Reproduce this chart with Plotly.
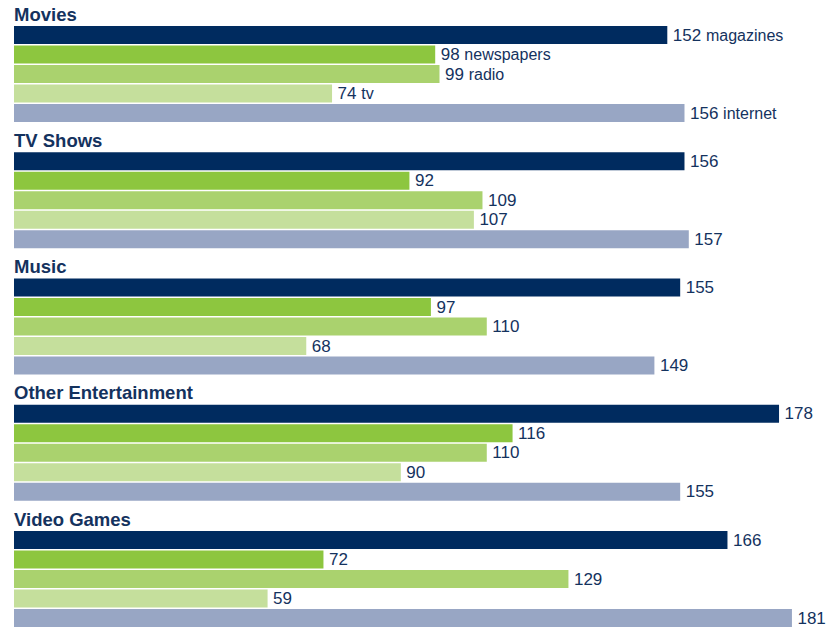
import plotly.graph_objects as go

# Media index by entertainment category
categories = ["Movies", "TV Shows", "Music", "Other Entertainment", "Video Games"]
series = ["magazines", "newspapers", "radio", "tv", "internet"]
values = {
    "magazines":  [152, 156, 155, 178, 166],
    "newspapers": [98, 92, 97, 116, 72],
    "radio":      [99, 109, 110, 110, 129],
    "tv":         [74, 107, 68, 90, 59],
    "internet":   [156, 157, 149, 155, 181],
}
colors = ["#002B5F", "#8DC63F", "#AAD26E", "#C5DF9C", "#98A6C4"]

NAVY = "#14325E"
FONT = "Liberation Sans, Arial, Helvetica, sans-serif"

W, H = 829, 628
PX_PER_UNIT = 4.298
LEFT = 14
GROUP_STEP = 126.25
BAR_STEP = 19.5
FIRST_BAR = 35
BAR_H = 18

# narrow non-breaking space to push labels a little off the bar ends
PAD = "<span style='font-size:9px'>\u00a0</span>"

fig = go.Figure()
for i, name in enumerate(series):
    ys = [FIRST_BAR + g * GROUP_STEP + i * BAR_STEP for g in range(len(categories))]
    texts = []
    for g, v in enumerate(values[name]):
        if g == 0:
            texts.append(f"{PAD}{v} <span style='font-size:16px'>{name}</span>")
        else:
            texts.append(f"{PAD}{v}")
    fig.add_trace(go.Bar(
        x=values[name], y=ys, orientation="h", width=BAR_H,
        marker=dict(color=colors[i], line=dict(width=0)),
        text=texts, textposition="outside", cliponaxis=False,
        constraintext="none",
        textfont=dict(family=FONT, size=17, color=NAVY),
        name=name, hoverinfo="skip",
    ))

for g, cat in enumerate(categories):
    fig.add_annotation(
        x=0, y=14 + g * GROUP_STEP, xref="x", yref="y", xshift=-2,
        text=f"<b>{cat}</b>", showarrow=False,
        xanchor="left", yanchor="middle",
        font=dict(family=FONT, size=18.5, color=NAVY),
    )

fig.update_layout(
    width=W, height=H,
    margin=dict(l=0, r=0, t=0, b=0),
    paper_bgcolor="white", plot_bgcolor="white",
    barmode="overlay", showlegend=False,
    uniformtext=dict(mode=False),
    xaxis=dict(range=[-LEFT / PX_PER_UNIT, (W - LEFT) / PX_PER_UNIT],
               visible=False, fixedrange=True),
    yaxis=dict(range=[H, 0], visible=False, fixedrange=True),
)

fig.write_html("out.html")
